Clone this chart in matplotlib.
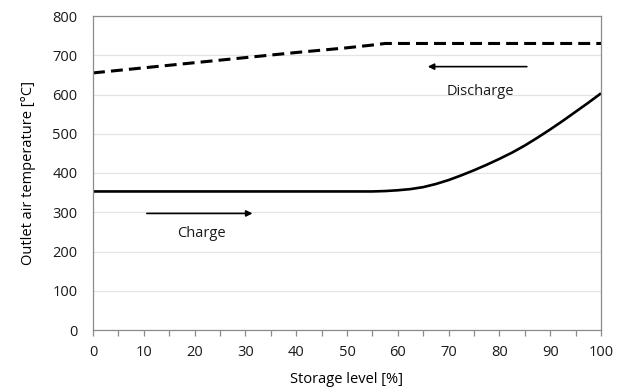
import matplotlib
matplotlib.use("Agg")
import matplotlib.pyplot as plt

plt.rcParams['font.family'] = ['Open Sans', 'DejaVu Sans']
plt.rcParams['text.color'] = '#1a1a1a'
plt.rcParams['xtick.labelcolor'] = '#1a1a1a'
plt.rcParams['ytick.labelcolor'] = '#1a1a1a'

# Charge curve (solid)
charge_x = [0, 10, 20, 30, 40, 50, 55, 57.5, 60, 62.5, 65, 67.5, 70, 72.5, 75, 77.5, 80, 82.5, 85, 87.5, 90, 92.5, 95, 97.5, 100]
charge_y = [353, 353, 353, 353, 353, 353, 353, 354, 356, 359, 364, 372, 382, 394, 407, 421, 436, 452, 470, 490, 511, 533, 556, 579, 603]

# Discharge curve (dashed)
discharge_x = [0, 10, 20, 30, 40, 50, 55, 57.5, 60, 70, 80, 90, 100]
discharge_y = [655, 668, 681, 694, 707, 719, 726, 730, 730, 730, 730, 730, 730]

x_ticks = [0, 10, 20, 30, 40, 50, 60, 70, 80, 90, 100]
y_ticks = [0, 100, 200, 300, 400, 500, 600, 700, 800]

fig = plt.figure(figsize=(6.3, 3.89), dpi=100)
ax = fig.add_axes([93/630, 1-330/389, (601-93)/630, (330-16)/389])

ax.plot(charge_x, charge_y, color='black', lw=1.9, solid_capstyle='butt')
ax.plot(discharge_x, discharge_y, color='black', lw=2.2, dashes=(3.9, 2.0))

ax.set_xlim(0, 100)
ax.set_ylim(0, 800)
ax.set_xticks(x_ticks)
ax.set_xticks(range(5, 100, 10), minor=True)
ax.set_yticks(y_ticks)

ax.grid(axis='y', color='#e3e3e3', lw=0.9)
ax.set_axisbelow(True)
for s in ax.spines.values():
    s.set_color('#8c8c8c')
    s.set_linewidth(0.9)

ax.tick_params(axis='x', which='both', direction='out', length=4.5, width=0.9,
               color='#8c8c8c', labelsize=10.5, pad=6)
ax.tick_params(axis='y', which='both', length=0, labelsize=10.5, pad=11)

ax.set_xlabel('Storage level [%]', fontsize=10.5, labelpad=9)
ax.set_ylabel('Outlet air temperature [°C]', fontsize=10.5, labelpad=12)

# Arrows and annotations
ax.annotate('', xy=(65.9, 671), xytext=(85.4, 671),
            arrowprops=dict(arrowstyle='-|>', lw=1.2, color='black', mutation_scale=9,
                            shrinkA=0, shrinkB=0))
ax.text(76.2, 607, 'Discharge', ha='center', va='center', fontsize=10.5)

ax.annotate('', xy=(31.4, 297), xytext=(10.6, 297),
            arrowprops=dict(arrowstyle='-|>', lw=1.2, color='black', mutation_scale=9,
                            shrinkA=0, shrinkB=0))
ax.text(21.4, 246, 'Charge', ha='center', va='center', fontsize=10.5)

fig.savefig('out.png', dpi=100)
